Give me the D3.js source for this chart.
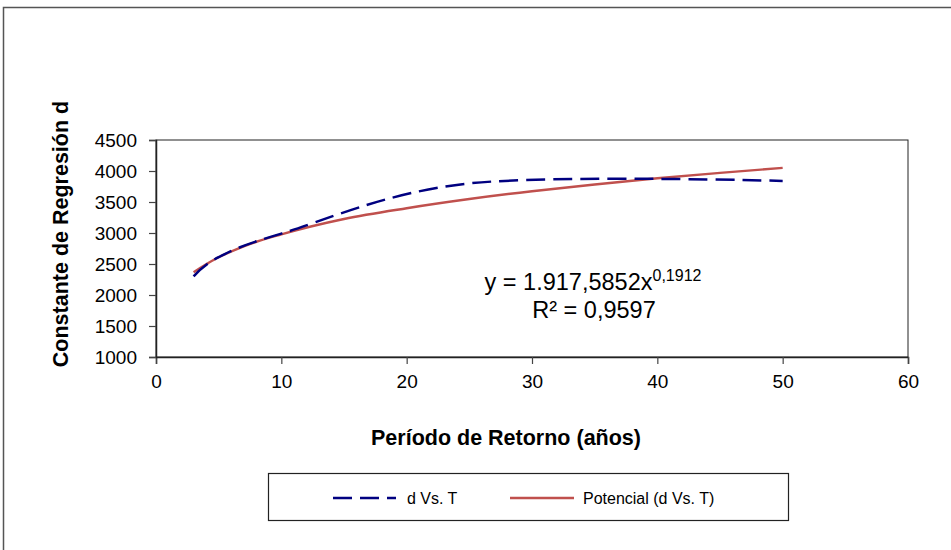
<!DOCTYPE html>
<html>
<head>
<meta charset="utf-8">
<script src="https://cdn.jsdelivr.net/npm/d3@7"></script>
<style>
  body { margin: 0; background: #fff; }
  svg text { font-family: "Liberation Sans", Arial, sans-serif; fill: #000; }
</style>
</head>
<body>
<svg id="chart" width="951" height="550"></svg>
<script>
// datos
const periodos = [3, 5, 10, 25, 50];
const dValores = [2300, 2610, 2990, 3800, 3840];

const periodosTend = [3, 4, 5, 7, 10, 15, 20, 25, 30, 35, 40, 45, 50];
const dTend = [2366, 2495, 2608, 2786, 2978, 3226, 3400, 3548, 3674, 3783, 3882, 3969, 4051];

const xTicks = [0, 10, 20, 30, 40, 50, 60];
const yTicks = [1000, 1500, 2000, 2500, 3000, 3500, 4000, 4500];

const svg = d3.select('#chart');

// marco exterior (solo se ven el borde superior e izquierdo)
svg.append('rect')
    .attr('x', 3.5).attr('y', 7.5)
    .attr('width', 1000).attr('height', 600)
    .attr('fill', 'none')
    .attr('stroke', '#555')
    .attr('stroke-width', 1.5);

const plot = { left: 156, right: 908, top: 140, bottom: 357 };

const x = d3.scaleLinear().domain([0, 60]).range([plot.left, plot.right]);
const y = d3.scaleLinear().domain([1000, 4500]).range([plot.bottom, plot.top]);

// caja del área de trazado
svg.append('rect')
    .attr('x', plot.left).attr('y', plot.top)
    .attr('width', plot.right - plot.left).attr('height', plot.bottom - plot.top)
    .attr('fill', 'none')
    .attr('stroke', '#222')
    .attr('stroke-width', 1);

const xAxis = svg.append('g')
    .attr('transform', `translate(0,${plot.bottom})`)
    .call(d3.axisBottom(x).tickValues(xTicks).tickFormat(d3.format('d')).tickSize(7).tickPadding(11));

const yAxis = svg.append('g')
    .attr('transform', `translate(${plot.left},0)`)
    .call(d3.axisLeft(y).tickValues(yTicks).tickFormat(d3.format('d')).tickSize(7).tickPadding(12));

[xAxis, yAxis].forEach(ax => {
    ax.select('.domain').attr('stroke', '#222').attr('stroke-width', 1.5);
    ax.selectAll('.tick line').attr('stroke', '#444').attr('stroke-width', 1.2);
    ax.selectAll('.tick text')
        .attr('font-size', '19px')
        .attr('font-family', '"Liberation Sans", Arial, sans-serif')
        .attr('fill', '#000');
});

// línea de tendencia
const lineaTend = d3.line()
    .x((d, i) => x(periodosTend[i]))
    .y(d => y(d))
    .curve(d3.curveMonotoneX);

svg.append('path')
    .datum(dTend)
    .attr('d', lineaTend)
    .attr('fill', 'none')
    .attr('stroke', '#C0504D')
    .attr('stroke-width', 2.4);

// serie d Vs. T (suavizada)
const lineaD = d3.line()
    .x((d, i) => x(periodos[i]))
    .y(d => y(d))
    .curve(d3.curveCardinal.tension(0));

svg.append('path')
    .datum(dValores)
    .attr('d', lineaD)
    .attr('fill', 'none')
    .attr('stroke', '#000080')
    .attr('stroke-width', 2.5)
    .attr('stroke-dasharray', '19,8');

// ecuación
const eq = svg.append('text')
    .attr('x', 593).attr('y', 290)
    .attr('text-anchor', 'middle')
    .attr('font-size', '23.5px');
eq.append('tspan').text('y = 1.917,5852x');
eq.append('tspan').attr('dy', -9).attr('font-size', '16px').text('0,1912');

svg.append('text')
    .attr('x', 594).attr('y', 318)
    .attr('text-anchor', 'middle')
    .attr('font-size', '23.5px')
    .text('R² = 0,9597');

// títulos de ejes
svg.append('text')
    .attr('x', 506).attr('y', 445)
    .attr('text-anchor', 'middle')
    .attr('font-size', '21.5px')
    .attr('font-weight', 'bold')
    .text('Período de Retorno (años)');

svg.append('text')
    .attr('transform', 'translate(68,234) rotate(-90)')
    .attr('text-anchor', 'middle')
    .attr('font-size', '21.5px')
    .attr('font-weight', 'bold')
    .text('Constante de Regresión d');

// leyenda
const leg = svg.append('g');
leg.append('rect')
    .attr('x', 268.5).attr('y', 473.5)
    .attr('width', 520).attr('height', 47)
    .attr('fill', '#fff')
    .attr('stroke', '#222')
    .attr('stroke-width', 1.2);

leg.append('line')
    .attr('x1', 333).attr('x2', 396).attr('y1', 498).attr('y2', 498)
    .attr('stroke', '#000080').attr('stroke-width', 2.5)
    .attr('stroke-dasharray', '19,8');
leg.append('text')
    .attr('x', 407).attr('y', 504)
    .attr('font-size', '16px')
    .text('d Vs. T');

leg.append('line')
    .attr('x1', 510).attr('x2', 574).attr('y1', 498).attr('y2', 498)
    .attr('stroke', '#C0504D').attr('stroke-width', 2.4);
leg.append('text')
    .attr('x', 583).attr('y', 504)
    .attr('font-size', '16px')
    .text('Potencial (d Vs. T)');
</script>
</body>
</html>
